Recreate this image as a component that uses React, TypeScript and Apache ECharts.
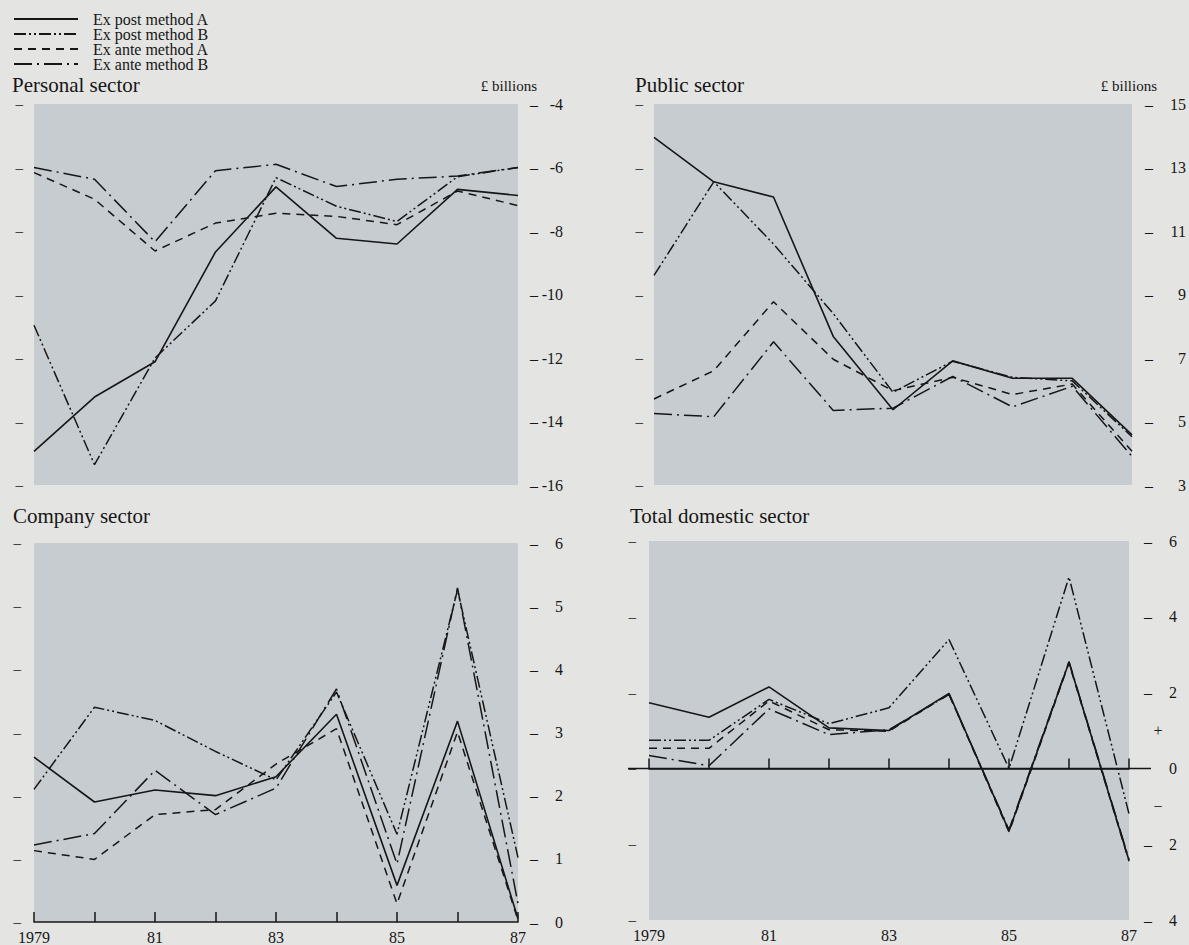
import React, { useEffect, useRef } from "react";
import * as echarts from "echarts";

// ---------- data ----------
const years = ["1979", "80", "81", "82", "83", "84", "85", "86", "87"];
const methodNames = ["Ex post method A", "Ex post method B", "Ex ante method A", "Ex ante method B"];

const personalExPostA = [-14.94, -13.23, -12.12, -8.66, -6.61, -8.23, -8.41, -6.69, -6.88];
const personalExPostB = [-10.97, -15.36, -12.0, -10.2, -6.32, -7.22, -7.7, -6.29, -6.0];
const personalExAnteA = [-6.16, -7.0, -8.63, -7.75, -7.44, -7.54, -7.8, -6.74, -7.2];
const personalExAnteB = [-6.0, -6.37, -8.34, -6.1, -5.9, -6.6, -6.37, -6.27, -6.0];

const publicExPostA = [13.95, 12.55, 12.07, 7.68, 5.37, 6.91, 6.36, 6.36, 4.58];
const publicExPostB = [9.6, 12.55, 10.59, 8.4, 5.92, 6.9, 6.39, 6.28, 4.52];
const publicExAnteA = [5.71, 6.6, 8.77, 6.96, 5.97, 6.39, 5.85, 6.18, 4.06];
const publicExAnteB = [5.25, 5.15, 7.51, 5.35, 5.42, 6.42, 5.46, 6.11, 3.9];

const companyExPostA = [2.61, 1.9, 2.09, 2.0, 2.3, 3.29, 0.58, 3.18, 0.05];
const companyExPostB = [2.1, 3.4, 3.19, 2.7, 2.25, 3.64, 1.39, 5.26, 1.02];
const companyExAnteA = [1.13, 0.99, 1.7, 1.78, 2.5, 3.06, 0.29, 3.01, 0.03];
const companyExAnteB = [1.22, 1.4, 2.4, 1.7, 2.12, 3.69, 0.92, 5.29, 0.29];

const totalExPostA = [1.73, 1.35, 2.15, 1.07, 1.0, 1.98, -1.65, 2.8, -2.43];
const totalExPostB = [0.74, 0.74, 1.82, 1.18, 1.6, 3.4, 0.0, 5.05, -1.2];
const totalExAnteA = [0.53, 0.53, 1.78, 1.02, 0.98, 1.96, -1.68, 2.78, -2.45];
const totalExAnteB = [0.34, 0.07, 1.57, 0.89, 1.02, 1.95, -1.62, 2.82, -2.4];

// right-hand tick labels of the total domestic panel (sign shown between figures)
const totalTickDash = { "6": "–", "4": "–", "2": "–", "-2": "–", "-4": "–" } as Record<string, string>;
const totalTickSign = { "1": "+", "-1": "−" } as Record<string, string>;
const totalTickNum = { "6": "6", "4": "4", "2": "2", "0": "0", "-2": "2", "-4": "4" } as Record<string, string>;

// ---------- styling ----------
const FONT = "'Liberation Serif', 'Times New Roman', Times, serif";
const INK = "#161616";
const PAGE = "#e4e4e2";
const SHADE = "#c7ccd1";

const lineStyles: any[] = [
  { type: "solid", width: 1.6 },
  { type: [12, 3, 2, 3, 2, 3], width: 1.5 },
  { type: [8, 6], width: 1.5 },
  { type: [18, 5, 2, 5], width: 1.5 },
];

const panels = [
  {
    grid: { left: 34, top: 104, width: 484, height: 381 },
    min: -16, max: -4, rightInterval: 2, leftInterval: 2,
    leftMargin: 11, rightMargin: 12, numWidth: 25,
    showX: false,
    data: [personalExPostA, personalExPostB, personalExAnteA, personalExAnteB],
    kind: "plain",
  },
  {
    grid: { left: 654, top: 104, width: 479, height: 381 },
    min: 3, max: 15, rightInterval: 1, leftInterval: 1,
    leftMargin: 11, rightMargin: 13, numWidth: 33,
    showX: false,
    data: [publicExPostA, publicExPostB, publicExAnteA, publicExAnteB],
    kind: "odd",
  },
  {
    grid: { left: 34, top: 543, width: 484, height: 381 },
    min: 0, max: 6, rightInterval: 1, leftInterval: 1,
    leftMargin: 13, rightMargin: 12, numWidth: 25,
    showX: true,
    data: [companyExPostA, companyExPostB, companyExAnteA, companyExAnteB],
    kind: "plain",
  },
  {
    grid: { left: 649, top: 541, width: 480, height: 379 },
    min: -4, max: 6, rightInterval: 1, leftInterval: 2,
    leftMargin: 13, rightMargin: 15, numWidth: 13,
    showX: true,
    data: [totalExPostA, totalExPostB, totalExAnteA, totalExAnteB],
    kind: "total",
  },
];

function buildOption() {
  const grid: any[] = [];
  const xAxis: any[] = [];
  const yAxis: any[] = [];
  const series: any[] = [];

  panels.forEach((p, i) => {
    grid.push({ ...p.grid, show: true, backgroundColor: SHADE, borderWidth: 0 });
    xAxis.push({
      type: "category",
      gridIndex: i,
      data: years,
      boundaryGap: false,
      show: p.showX,
      axisLine: { show: p.showX, lineStyle: { color: INK, width: 1.6 } },
      axisTick: { show: p.showX, inside: true, length: 10, interval: 0, lineStyle: { color: INK, width: 1.5 } },
      axisLabel: { show: p.showX, interval: 1, margin: 7, fontFamily: FONT, fontSize: 16, color: INK },
      splitLine: { show: false },
    });
    // left: short dashes only
    yAxis.push({
      type: "value",
      gridIndex: i,
      position: "left",
      min: p.min,
      max: p.max,
      interval: p.leftInterval,
      axisLine: { show: false },
      axisTick: { show: false },
      splitLine: { show: false },
      axisLabel: {
        margin: p.leftMargin,
        fontFamily: FONT,
        fontSize: 15,
        color: INK,
        formatter: (v: number) => (p.kind === "odd" ? (Math.abs(v) % 2 === 1 ? "–" : "") : "–"),
      },
    });
    // right: dash + figure
    const rich: any = {
      d: { width: 8, align: "left", fontFamily: FONT, fontSize: 16, color: INK },
      s: { width: 12, align: "center", fontFamily: FONT, fontSize: 16, color: INK },
      v: { width: p.numWidth, align: "right", fontFamily: FONT, fontSize: 16, color: INK },
    };
    yAxis.push({
      type: "value",
      gridIndex: i,
      position: "right",
      min: p.min,
      max: p.max,
      interval: p.rightInterval,
      axisLine: { show: false },
      axisTick: { show: false },
      splitLine: { show: false },
      axisLabel: {
        margin: p.rightMargin,
        align: "left",
        rich,
        formatter: (v: number) => {
          if (p.kind === "odd") {
            return Math.abs(v) % 2 === 1 ? `{d|–}{v|${v}}` : "";
          }
          if (p.kind === "total") {
            const k = String(v);
            const d = totalTickDash[k];
            const s = totalTickSign[k];
            const n = totalTickNum[k];
            if (!d && !s && !n) return "";
            return `{d|${d || " "}}{s|${s || " "}}{v|${n || " "}}`;
          }
          return `{d|–}{v|${v}}`;
        },
      },
    });
    p.data.forEach((vals, m) => {
      series.push({
        type: "line",
        name: methodNames[m],
        xAxisIndex: i,
        yAxisIndex: i * 2 + 1,
        data: vals,
        symbol: "none",
        silent: true,
        itemStyle: { color: INK, opacity: 0 },
        lineStyle: { color: INK, width: lineStyles[m].width, type: lineStyles[m].type, cap: "butt" },
        z: 3 + (m === 0 ? 1 : 0),
      });
    });
  });

  const text = (id: string, t: string, x: number, y: number, size: number, align: string) => ({
    id,
    type: "text",
    x,
    y,
    silent: true,
    style: {
      text: t,
      fill: INK,
      font: `${size}px ${FONT}`,
      align,
      verticalAlign: "middle",
      textAlign: align,
      textVerticalAlign: "middle",
    },
  });

  return {
    animation: false,
    backgroundColor: PAGE,
    grid,
    xAxis,
    yAxis,
    series,
    legend: {
      orient: "vertical",
      left: 13,
      top: 11,
      padding: 0,
      itemWidth: 64,
      itemHeight: 14,
      itemGap: -1,
      selectedMode: false,
      data: methodNames,
      itemStyle: { color: "rgba(0,0,0,0)", opacity: 0, borderWidth: 0 },
      textStyle: { fontFamily: FONT, fontSize: 16, color: INK, lineHeight: 14, padding: [0, 0, 0, 10] },
    },
    graphic: [
      text("t1", "Personal sector", 12, 85, 21, "left"),
      text("t2", "Public sector", 635, 85, 21, "left"),
      text("t3", "Company sector", 13, 516, 21, "left"),
      text("t4", "Total domestic sector", 630, 516, 21, "left"),
      text("u1", "£ billions", 537, 86, 15, "right"),
      text("u2", "£ billions", 1157, 86, 15, "right"),
    ],
  };
}

export default function App() {
  const ref = useRef<HTMLDivElement>(null);
  useEffect(() => {
    if (!ref.current) return;
    const chart = echarts.init(ref.current, null, { renderer: "svg" });
    chart.setOption(buildOption() as any);
    // zero reference line of the total domestic panel, placed through the axes' own scales
    const y0 = chart.convertToPixel({ yAxisIndex: 7 }, 0) as number;
    const xa = chart.convertToPixel({ xAxisIndex: 3 }, years[0]) as number;
    const xb = chart.convertToPixel({ xAxisIndex: 3 }, years[years.length - 1]) as number;
    chart.setOption({
      graphic: [
        {
          id: "zero",
          type: "line",
          silent: true,
          z: 5,
          shape: { x1: xa - 21, y1: y0, x2: xb + 22, y2: y0 },
          style: { stroke: INK, lineWidth: 1.5 },
        },
      ],
    } as any);
    return () => chart.dispose();
  }, []);
  return (
    <div
      ref={ref}
      style={{ position: "absolute", left: 0, top: 0, width: 1189, height: 945, background: PAGE }}
    />
  );
}
